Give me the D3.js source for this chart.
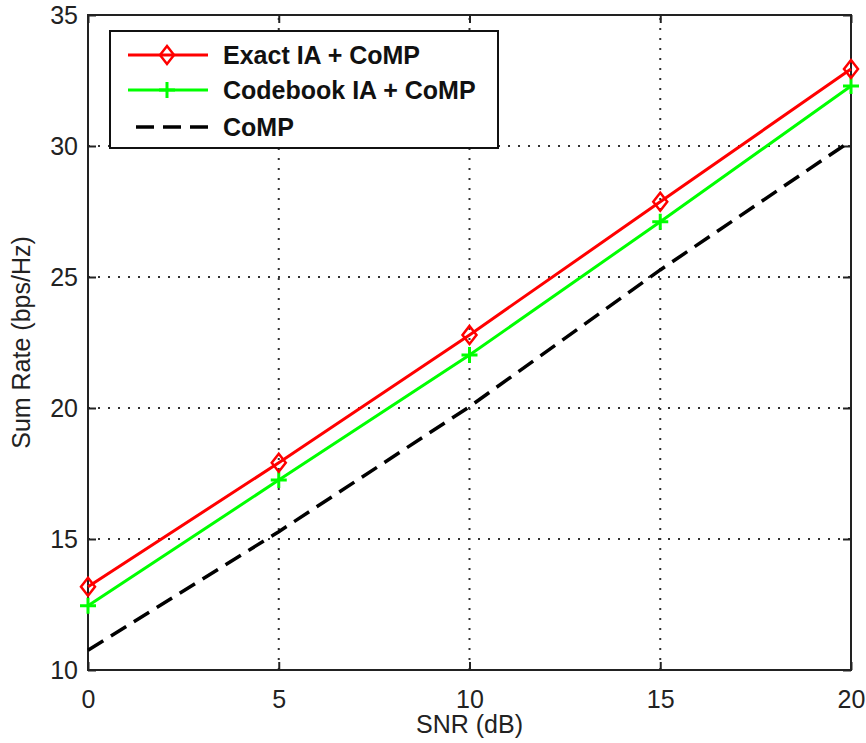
<!DOCTYPE html>
<html>
<head>
<meta charset="utf-8">
<script src="https://cdn.jsdelivr.net/npm/d3@7"></script>
<style>
  html, body { margin: 0; padding: 0; background: #fff; }
  svg { display: block; }
  text { font-family: "Liberation Sans", Arial, Helvetica, sans-serif; }
</style>
</head>
<body>
<svg id="chart" width="866" height="743"></svg>
<script>
// SNR points (dB)
const snr = [0, 5, 10, 15, 20];
// Sum rate (bps/Hz) per scheme
const exactIA = [13.18, 17.91, 22.79, 27.87, 32.94];
const codebookIA = [12.45, 17.25, 22.02, 27.11, 32.29];
const comp = [10.75, 15.28, 20.05, 25.27, 30.2];
// Axis ticks
const xTicks = [0, 5, 10, 15, 20];
const yTicks = [10, 15, 20, 25, 30, 35];
const seriesNames = ["Exact IA + CoMP", "Codebook IA + CoMP", "CoMP"];

const svg = d3.select("#chart");
const plotL = 88, plotR = 851, plotT = 15, plotB = 670;

const x = d3.scaleLinear().domain([0, 20]).range([plotL, plotR]);
const y = d3.scaleLinear().domain([10, 35]).range([plotB, plotT]);

// Dotted grid
const grid = svg.append("g").attr("stroke", "#333").attr("stroke-width", 2)
  .attr("stroke-dasharray", "2,8");
grid.selectAll("line.gx").data(xTicks.slice(1, -1)).join("line").attr("class", "gx")
  .attr("x1", d => x(d)).attr("x2", d => x(d)).attr("y1", plotB).attr("y2", plotT);
grid.selectAll("line.gy").data(yTicks.slice(1, -1)).join("line").attr("class", "gy")
  .attr("y1", d => y(d)).attr("y2", d => y(d)).attr("x1", plotL).attr("x2", plotR);

// Axes with inward ticks (box style)
const tickLen = 8;
const axisStyle = g => {
  g.select(".domain").remove();
  g.selectAll("line").attr("stroke", "#222").attr("stroke-width", 2);
  g.selectAll("text").attr("font-size", 25).attr("fill", "#222");
};
svg.append("g").attr("transform", `translate(0,${plotB})`)
  .call(d3.axisBottom(x).tickValues(xTicks).tickSize(-tickLen).tickPadding(tickLen + 12))
  .call(axisStyle);
svg.append("g").attr("transform", `translate(0,${plotT})`)
  .call(d3.axisTop(x).tickValues(xTicks).tickSize(-tickLen).tickFormat(""))
  .call(axisStyle);
svg.append("g").attr("transform", `translate(${plotL},0)`)
  .call(d3.axisLeft(y).tickValues(yTicks).tickSize(-tickLen).tickPadding(tickLen + 2))
  .call(axisStyle);
svg.append("g").attr("transform", `translate(${plotR},0)`)
  .call(d3.axisRight(y).tickValues(yTicks).tickSize(-tickLen).tickFormat(""))
  .call(axisStyle);

// Plot frame
svg.append("rect").attr("x", plotL).attr("y", plotT)
  .attr("width", plotR - plotL).attr("height", plotB - plotT)
  .attr("fill", "none").attr("stroke", "#222").attr("stroke-width", 2);

// Axis labels
svg.append("text").attr("x", (plotL + plotR) / 2).attr("y", 733)
  .attr("text-anchor", "middle").attr("font-size", 25).attr("fill", "#222")
  .text("SNR (dB)");
svg.append("text").attr("transform", `translate(30,${(plotT + plotB) / 2}) rotate(-90)`)
  .attr("text-anchor", "middle").attr("font-size", 25).attr("fill", "#222")
  .text("Sum Rate (bps/Hz)");

const line = d3.line().x((d, i) => x(snr[i])).y(d => y(d));

// Marker shapes
const diamond = (g, cx, cy) => g.append("path")
  .attr("d", `M${cx},${cy - 9}L${cx + 7},${cy}L${cx},${cy + 9}L${cx - 7},${cy}Z`)
  .attr("fill", "none").attr("stroke", "#ff0000").attr("stroke-width", 2.5);
const plus = (g, cx, cy) => g.append("path")
  .attr("d", `M${cx - 8},${cy}H${cx + 8}M${cx},${cy - 8}V${cy + 8}`)
  .attr("fill", "none").attr("stroke", "#00ff00").attr("stroke-width", 3);

// CoMP (dashed)
svg.append("path").datum(comp).attr("d", line)
  .attr("fill", "none").attr("stroke", "#000").attr("stroke-width", 3.5)
  .attr("stroke-dasharray", "18,9");

// Codebook IA + CoMP
svg.append("path").datum(codebookIA).attr("d", line)
  .attr("fill", "none").attr("stroke", "#00ff00").attr("stroke-width", 3);
const gPlus = svg.append("g");
codebookIA.forEach((v, i) => plus(gPlus, x(snr[i]), y(v)));

// Exact IA + CoMP
svg.append("path").datum(exactIA).attr("d", line)
  .attr("fill", "none").attr("stroke", "#ff0000").attr("stroke-width", 3);
const gDia = svg.append("g");
exactIA.forEach((v, i) => diamond(gDia, x(snr[i]), y(v)));

// Legend
const leg = svg.append("g");
leg.append("rect").attr("x", 110).attr("y", 31).attr("width", 388).attr("height", 117)
  .attr("fill", "#fff").attr("stroke", "#111").attr("stroke-width", 2);
const rowY = [55, 90, 127];
const x0 = 128, x1 = 208, xm = 167;
leg.append("line").attr("x1", x0).attr("x2", x1).attr("y1", rowY[0]).attr("y2", rowY[0])
  .attr("stroke", "#ff0000").attr("stroke-width", 3);
diamond(leg, xm, rowY[0]);
leg.append("line").attr("x1", x0).attr("x2", x1).attr("y1", rowY[1]).attr("y2", rowY[1])
  .attr("stroke", "#00ff00").attr("stroke-width", 3);
plus(leg, xm, rowY[1]);
leg.append("line").attr("x1", x0 + 8).attr("x2", x1).attr("y1", rowY[2]).attr("y2", rowY[2])
  .attr("stroke", "#000").attr("stroke-width", 3.5).attr("stroke-dasharray", "18,9");
leg.selectAll("text.lab").data(seriesNames).join("text").attr("class", "lab")
  .attr("x", 223).attr("y", (d, i) => rowY[i]).attr("dy", "0.36em")
  .attr("font-size", 25).attr("font-weight", "bold").attr("fill", "#111")
  .text(d => d);
</script>
</body>
</html>
